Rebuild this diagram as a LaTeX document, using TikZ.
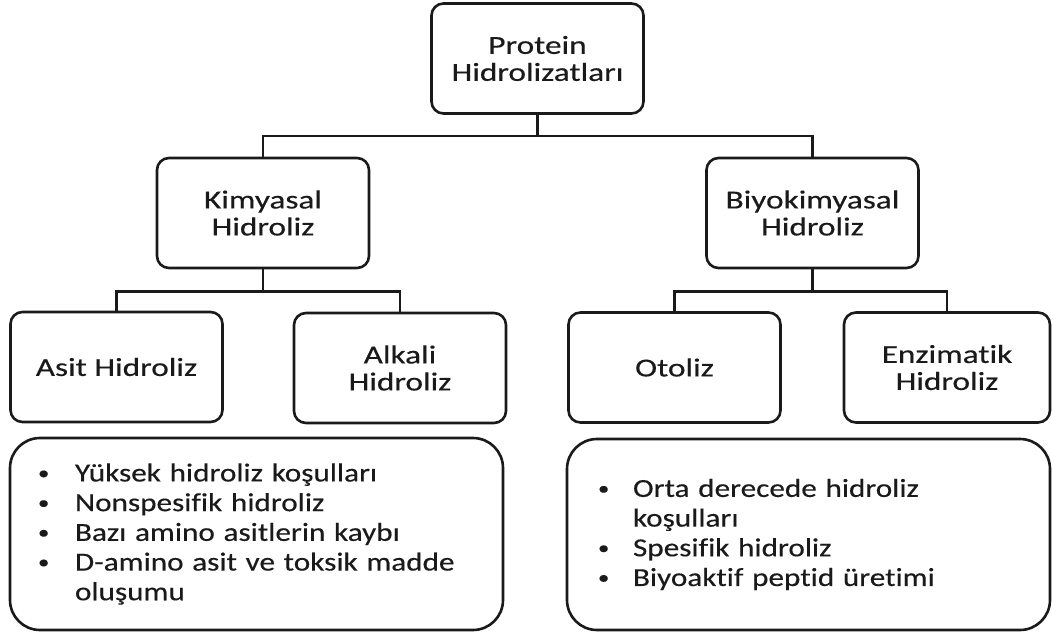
\documentclass[tikz,border=0pt]{standalone}
\usepackage{fontspec}
\setmainfont{Carlito}[Ligatures=NoCommon]
\newfontfamily\boxfont{Carlito}[FakeStretch=1.28,FakeBold=0.3,Ligatures=NoCommon]
\newfontfamily\listfont{Carlito}[FakeStretch=1.2,FakeBold=0.3,Ligatures=NoCommon]
\definecolor{ink}{HTML}{1A1A1A}
\newcommand{\bul}{\raisebox{2.2pt}{\fontsize{19}{19}\selectfont •}}
\begin{document}
\begin{tikzpicture}[x=1pt,y=-1pt,
  box/.style={draw=ink, text=ink, line width=2.6pt, rounded corners=12pt,
    minimum width=212pt, minimum height=110pt, align=center, inner sep=0pt,
    font=\boxfont\fontsize{26}{27}\selectfont},
  listbox/.style={draw=ink, text=ink, line width=2.6pt, rounded corners=30pt,
    align=left, inner ysep=0pt, font=\listfont\fontsize{26}{29.7}\selectfont},
  conn/.style={draw=ink, line width=2.6pt}]
\fill[white] (0,0) rectangle (1052,635);
\useasboundingbox (0,0) rectangle (1052,635);

\node[box] (prot) at (537.5,58.5) {Protein\\Hidrolizatları};
\node[box] (kim)  at (263,213)    {Kimyasal\\Hidroliz};
\node[box] (biyo) at (812.5,213)  {Biyokimyasal\\Hidroliz};
\node[box] (asit) at (116.5,367)  {Asit Hidroliz};
\node[box] (alk)  at (400,368)    {Alkali\\Hidroliz};
\node[box] (oto)  at (674.5,367.5) {Otoliz};
\node[box, minimum width=206pt] (enz) at (947,367.5) {Enzimatik\\Hidroliz};

\node[listbox, inner xsep=28pt, text width=437pt, minimum height=192pt] (kimlist) at (256.5,534)
 {\makebox[37pt][l]{\bul}Yüksek hidroliz koşulları\\
  \makebox[37pt][l]{\bul}Nonspesifik hidroliz\\
  \makebox[37pt][l]{\bul}Bazı amino asitlerin kaybı\\
  \makebox[37pt][l]{\bul}D-amino asit ve toksik madde\\
  \hspace*{37pt}oluşumu};
\node[listbox, inner xsep=31pt, text width=421pt, minimum height=191pt] (biyolist) at (808.5,534.5)
 {\makebox[35pt][l]{\bul}Orta derecede hidroliz\\
  \hspace*{35pt}koşulları\\
  \makebox[35pt][l]{\bul}Spesifik hidroliz\\
  \makebox[35pt][l]{\bul}Biyoaktif peptid üretimi};

\draw[conn] (prot.south) -- ++(0,21) coordinate (j1);
\draw[conn] (kim.north) |- (j1) -| (biyo.north);
\draw[conn] (kim.south) -- ++(0,22) coordinate (j2);
\draw[conn] (asit.north) |- (j2) -| (alk.north);
\draw[conn] (biyo.south) -- ++(0,22) coordinate (j3);
\draw[conn] (oto.north) |- (j3) -| (enz.north);
\end{tikzpicture}
\end{document}
